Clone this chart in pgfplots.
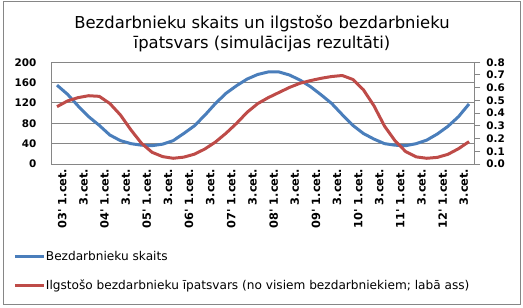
\documentclass[border=0pt]{standalone}
\usepackage{pgfplots}
\pgfplotsset{compat=1.18}
\usepackage{pgfplotstable}
\usepackage{fontspec}
\setmainfont{DejaVu Sans}
\definecolor{cblue}{HTML}{4A7EBB}
\definecolor{cred}{HTML}{BE4B48}
\definecolor{cgrid}{HTML}{868686}
\pgfplotstableread{
i blue red
0 155 0.451
1 137 0.496
2 114 0.522
3 93 0.537
4 76 0.532
5 57 0.476
6 46 0.386
7 40 0.268
8 37 0.163
9 36 0.092
10 39 0.058
11 46 0.045
12 60 0.054
13 75 0.077
14 96 0.118
15 119 0.173
16 139 0.242
17 154 0.320
18 167 0.407
19 176 0.475
20 181 0.522
21 181 0.562
22 175 0.602
23 165 0.635
24 152 0.656
25 136 0.674
26 119 0.688
27 97 0.696
28 76 0.665
29 60 0.584
30 49 0.458
31 40 0.298
32 37 0.182
33 36 0.098
34 40 0.056
35 47 0.045
36 59 0.052
37 74 0.076
38 93 0.120
39 118 0.176
}\datatable
\begin{document}
\begin{tikzpicture}
\path[use as bounding box] (0pt,0pt) rectangle (392.25pt,230.25pt);
\draw[cgrid, line width=0.75pt] (2.25pt,1.9pt) rectangle (390pt,229.1pt);
\node[anchor=base, font=\fontsize{12.3}{14}\selectfont] at (196.5pt,208.5pt) {Bezdarbnieku skaits un ilgstošo bezdarbnieku};
\node[anchor=base, font=\fontsize{12.3}{14}\selectfont] at (196.5pt,193.5pt) {īpatsvars (simulācijas rezultāti)};
\begin{axis}[
  scale only axis, width=316.95pt, height=76.3pt,
  at={(38.78pt,107.25pt)}, anchor=south west,
  xmin=-0.5, xmax=39.5, ymin=0, ymax=200,
  ytick={0,40,...,200},
  xtick={0,2,...,38},
  xticklabels={03\textquotesingle\ 1.cet., 3.cet., 04\textquotesingle\ 1.cet., 3.cet., 05\textquotesingle\ 1.cet., 3.cet., 06\textquotesingle\ 1.cet., 3.cet., 07\textquotesingle\ 1.cet., 3.cet., 08\textquotesingle\ 1.cet., 3.cet., 09\textquotesingle\ 1.cet., 3.cet., 10\textquotesingle\ 1.cet., 3.cet., 11\textquotesingle\ 1.cet., 3.cet., 12\textquotesingle\ 1.cet., 3.cet.},
  major tick length=0pt,
  ymajorgrids, major grid style={cgrid, line width=0.75pt},
  axis line style={cgrid, line width=0.75pt},
  /pgf/number format/assume math mode=true,
  yticklabel style={font=\fontsize{7.8}{9}\selectfont\bfseries, xshift=-8pt},
  xticklabel style={font=\fontsize{8.5}{10}\selectfont\bfseries, rotate=90, anchor=east, yshift=-4pt},
]
\addplot[cblue, line width=2.25pt, line join=round] table[x=i, y=blue] {\datatable};
\end{axis}
\begin{axis}[
  scale only axis, width=316.95pt, height=76.3pt,
  at={(38.78pt,107.25pt)}, anchor=south west,
  xmin=-0.5, xmax=39.5, ymin=0, ymax=0.8,
  axis x line=none, axis y line*=right,
  ytick={0,0.1,...,0.8},
  y axis line style={cgrid, line width=0.75pt, -},
  tick style={cgrid, line width=0.75pt},
  tick align=outside, major tick length=4.5pt,
  /pgf/number format/assume math mode=true,
  /pgf/number format/.cd, fixed, fixed zerofill, precision=1, /pgfplots/.cd,
  yticklabel style={font=\fontsize{7.8}{9}\selectfont\bfseries, xshift=1pt},
  legend style={at={(-0.0916,-0.846)}, anchor=north west, draw=none, fill=none,
    inner sep=0pt, row sep=12pt, font=\fontsize{9.1}{10}\selectfont,
    nodes={inner sep=0.5pt, anchor=west}},
  legend cell align=left,
  legend image code/.code={\draw[#1] (0pt,0pt) -- (21.75pt,0pt);},
]
\addlegendimage{cblue, line width=2.25pt}
\addlegendentry{Bezdarbnieku skaits}
\addplot[cred, line width=2.25pt, line join=round] table[x=i, y=red] {\datatable};
\addlegendentry{Ilgstošo bezdarbnieku īpatsvars (no visiem bezdarbniekiem; labā ass)}
\end{axis}
\end{tikzpicture}
\end{document}
